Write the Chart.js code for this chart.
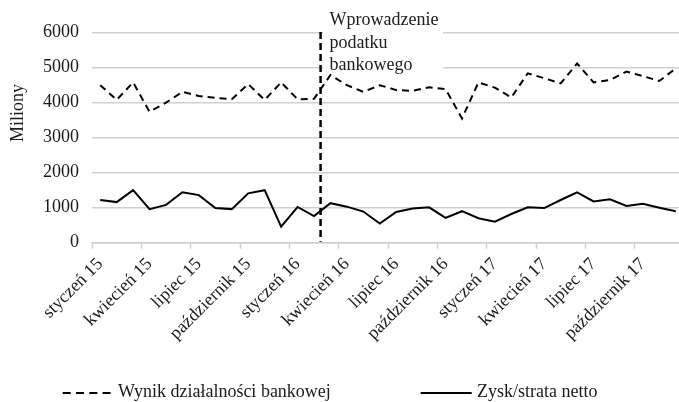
<!DOCTYPE html>
<html><head><meta charset="utf-8">
<script src="https://cdn.jsdelivr.net/npm/chart.js@4.4.0/dist/chart.umd.min.js"></script>
<style>
html,body{margin:0;padding:0;background:#fff;overflow:hidden;width:679px;height:402px}
#wrap{position:relative;width:684px;height:402px}
</style></head><body>
<div id="wrap"><canvas id="c" width="684" height="402"></canvas></div>
<script>
const categories = [
 'styczeń 15','luty 15','marzec 15','kwiecień 15','maj 15','czerwiec 15','lipiec 15','sierpień 15','wrzesień 15','październik 15','listopad 15','grudzień 15',
 'styczeń 16','luty 16','marzec 16','kwiecień 16','maj 16','czerwiec 16','lipiec 16','sierpień 16','wrzesień 16','październik 16','listopad 16','grudzień 16',
 'styczeń 17','luty 17','marzec 17','kwiecień 17','maj 17','czerwiec 17','lipiec 17','sierpień 17','wrzesień 17','październik 17','listopad 17','grudzień 17'
];
const wynikBankowy = [4500,4080,4580,3740,4000,4310,4190,4140,4100,4530,4080,4580,4100,4110,4790,4500,4310,4500,4360,4340,4440,4390,3550,4580,4430,4150,4840,4700,4550,5120,4580,4650,4890,4760,4620,4980];
const zyskNetto = [1220,1160,1500,960,1080,1440,1360,990,960,1410,1500,460,1020,760,1130,1030,890,550,880,980,1010,710,900,700,600,820,1010,990,1220,1440,1180,1240,1050,1110,1000,900];
const yTicks = [0,1000,2000,3000,4000,5000,6000];
const seriesNames = ['Wynik działalności bankowej','Zysk/strata netto'];
const yTitle = 'Miliony';
const annotationLines = ['Wprowadzenie','podatku','bankowego'];
const taxEventAt = 13.4;

const FONT = '"Liberation Serif","Times New Roman",serif';
const TXT = '#1a1a1a';

const overlay = {
  id:'overlay',
  beforeDatasetsDraw(chart){
    const c = chart.ctx;
    c.save(); c.fillStyle='#fff'; c.fillRect(323, 6, 120, 71); c.restore();
  },
  afterDatasetsDraw(chart){
    const c = chart.ctx, x = chart.scales.x, y = chart.scales.y;
    const i0 = Math.floor(taxEventAt);
    const p0 = x.getPixelForValue(i0), p1 = x.getPixelForValue(i0+1);
    const xv = p0 + (p1-p0)*(taxEventAt-i0);
    c.save();
    c.strokeStyle='#000'; c.lineWidth=2.5; c.setLineDash([7,4]);
    c.beginPath(); c.moveTo(xv, 32); c.lineTo(xv, y.getPixelForValue(0)-1); c.stroke();
    c.setLineDash([]);
    c.fillStyle=TXT; c.font='18px '+FONT; c.textAlign='left'; c.textBaseline='alphabetic';
    annotationLines.forEach((t,i)=>c.fillText(t, xv+9, 25+i*22.5));
    // y title
    c.save(); c.translate(18,113); c.rotate(-Math.PI/2); c.textAlign='center'; c.textBaseline='middle';
    c.fillText(yTitle,0,0); c.restore();
    // legend
    const ly = 393, tb = 397;
    const items = [
      {x0:62.7, x1:110.7, tx:118, dash:[8,5.3]},
      {x0:420.7, x1:471.7, tx:477, dash:[]}
    ];
    items.forEach((it,k)=>{
      c.strokeStyle='#000'; c.lineWidth=2; c.setLineDash(it.dash);
      c.beginPath(); c.moveTo(it.x0, ly); c.lineTo(it.x1, ly); c.stroke();
      c.setLineDash([]);
      c.fillText(chart.data.datasets[k].label, it.tx, tb);
    });
    c.restore();
  }
};

new Chart(document.getElementById('c'), {
  type:'line',
  data:{labels:categories, datasets:[
    {label:seriesNames[0], data:wynikBankowy, borderColor:'#000', borderWidth:2, borderDash:[7,5], pointRadius:0, tension:0, fill:false},
    {label:seriesNames[1], data:zyskNetto, borderColor:'#000', borderWidth:2, pointRadius:0, tension:0, fill:false}
  ]},
  options:{
    responsive:false, animation:false,
    layout:{padding:{top:32.7,left:0,right:0,bottom:0}},
    plugins:{legend:{display:false}, tooltip:{enabled:false}},
    scales:{
      x:{
        offset:true,
        grid:{offset:true, drawOnChartArea:false, drawTicks:true, tickLength:6,
          tickColor:(ctx)=> (ctx.index%3===0 ? '#d0d0d0' : 'rgba(0,0,0,0)'), tickWidth:1.5},
        border:{color:'#d0d0d0', width:1.5},
        ticks:{autoSkip:false, maxRotation:45, minRotation:45, padding:5, color:TXT,
          font:{family:FONT, size:18},
          callback:(v,i)=> (i%3===0 ? categories[i] : '')},
        afterFit:(s)=>{ s.height = 402-242.7; s.paddingLeft = 0; s.paddingRight = 0; }
      },
      y:{
        min:0, max:6000,
        afterBuildTicks:(s)=>{ s.ticks = yTicks.map(v=>({value:v})); },
        ticks:{padding:13, color:TXT, font:{family:FONT, size:18}, callback:(v)=>String(v)},
        grid:{color:'#d0d0d0', lineWidth:1.5, drawTicks:false},
        border:{display:false},
        afterFit:(s)=>{ s.width = 92; }
      }
    }
  },
  plugins:[overlay]
});
</script>
</body></html>
